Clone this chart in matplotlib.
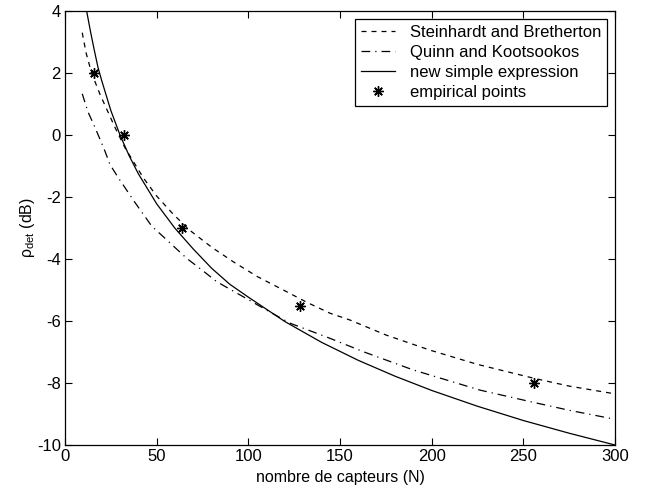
import numpy as np
import matplotlib
matplotlib.use("Agg")
import matplotlib.pyplot as plt

plt.rcParams['font.family'] = ['Liberation Sans', 'DejaVu Sans']
plt.rcParams['mathtext.fontset'] = 'custom'
plt.rcParams['mathtext.rm'] = 'Liberation Sans'
plt.rcParams['mathtext.it'] = 'Liberation Sans:italic'
plt.rcParams['axes.unicode_minus'] = False

# ---- data ----
n_stein = [9.4, 11.5, 14.5, 19.1, 27.3, 32.7, 42.7, 50, 59.1, 68.2, 80, 91.8, 105,
           119.1, 132, 144.6, 155.5, 175, 199.1, 225, 255.9, 275, 300]
y_stein = [3.30, 2.65, 2.00, 1.31, 0.24, -0.41, -1.38, -1.97, -2.56, -3.08, -3.62, -4.09,
           -4.57, -5.00, -5.40, -5.75, -5.97, -6.45, -6.94, -7.40, -7.85, -8.10, -8.35]

n_quinn = [9.4, 12.5, 16.4, 21.8, 24.5, 29.1, 38.2, 47.3, 53.6, 66.4, 74.6, 82.7, 97.3,
           110, 122.7, 144.6, 162.7, 190, 226.4, 253.7, 275, 300]
y_quinn = [1.33, 0.75, 0.24, -0.52, -0.95, -1.38, -2.18, -2.94, -3.28, -3.98, -4.35, -4.73,
           -5.22, -5.65, -6.07, -6.56, -6.99, -7.58, -8.23, -8.60, -8.88, -9.17]

n_new = [11.8, 14, 16, 18, 20, 25, 30, 35, 40, 50, 60, 70, 80, 90, 100, 120, 140, 160,
         180, 200, 225, 250, 275, 300]
y_new = [4.0, 3.31, 2.73, 2.18, 1.76, 0.79, 0.00, -0.67, -1.25, -2.22, -3.01, -3.68,
         -4.30, -4.82, -5.23, -6.02, -6.69, -7.27, -7.78, -8.24, -8.75, -9.21, -9.62, -10.0]

n_emp = [16, 32, 64, 128, 256]
y_emp = [2.0, 0.0, -3.0, -5.5, -8.0]

labels = ["Steinhardt and Bretherton", "Quinn and Kootsookos",
          "new simple expression", "empirical points"]
xticks = [0, 50, 100, 150, 200, 250, 300]
yticks = [4, 2, 0, -2, -4, -6, -8, -10]

fig = plt.figure(figsize=(6.51, 4.93), dpi=100)
ax = fig.add_axes([65/651, 1-445/493, 550/651, 434/493])

lw = 0.9
l1, = ax.plot(n_stein, y_stein, color='black', lw=lw, linestyle=(0, (4, 4)))
l2, = ax.plot(n_quinn, y_quinn, color='black', lw=lw, linestyle=(0, (7, 4, 1, 4)))
l3, = ax.plot(n_new, y_new, color='black', lw=lw, linestyle='-')
l4, = ax.plot(n_emp, y_emp, color='black', linestyle='none', marker=(8, 2, 0),
              markersize=7.5, markeredgewidth=1.0)

ax.set_xlim(0, 300)
ax.set_ylim(-10, 4)
ax.set_xticks(xticks)
ax.set_yticks(yticks)
ax.tick_params(direction='in', length=5, width=0.8, top=True, right=True,
               labelsize=12, pad=3, colors='black')
for s in ax.spines.values():
    s.set_linewidth(0.9)
    s.set_color('black')

ax.set_xlabel("nombre de capteurs (N)", fontsize=11.5, labelpad=4)
ax.set_ylabel(r"ρ$_{\mathrm{det}}$ (dB)", fontsize=11.5, labelpad=0)

leg = ax.legend([l1, l2, l3, l4], labels, loc='upper right',
                bbox_to_anchor=(0.985, 0.9816), borderaxespad=0, fancybox=False,
                framealpha=1, edgecolor='black', fontsize=12, handlelength=2.0,
                handletextpad=0.9, labelspacing=0.3, borderpad=0.35, numpoints=1)
leg.get_frame().set_linewidth(0.9)

fig.savefig("out.png", dpi=100)
